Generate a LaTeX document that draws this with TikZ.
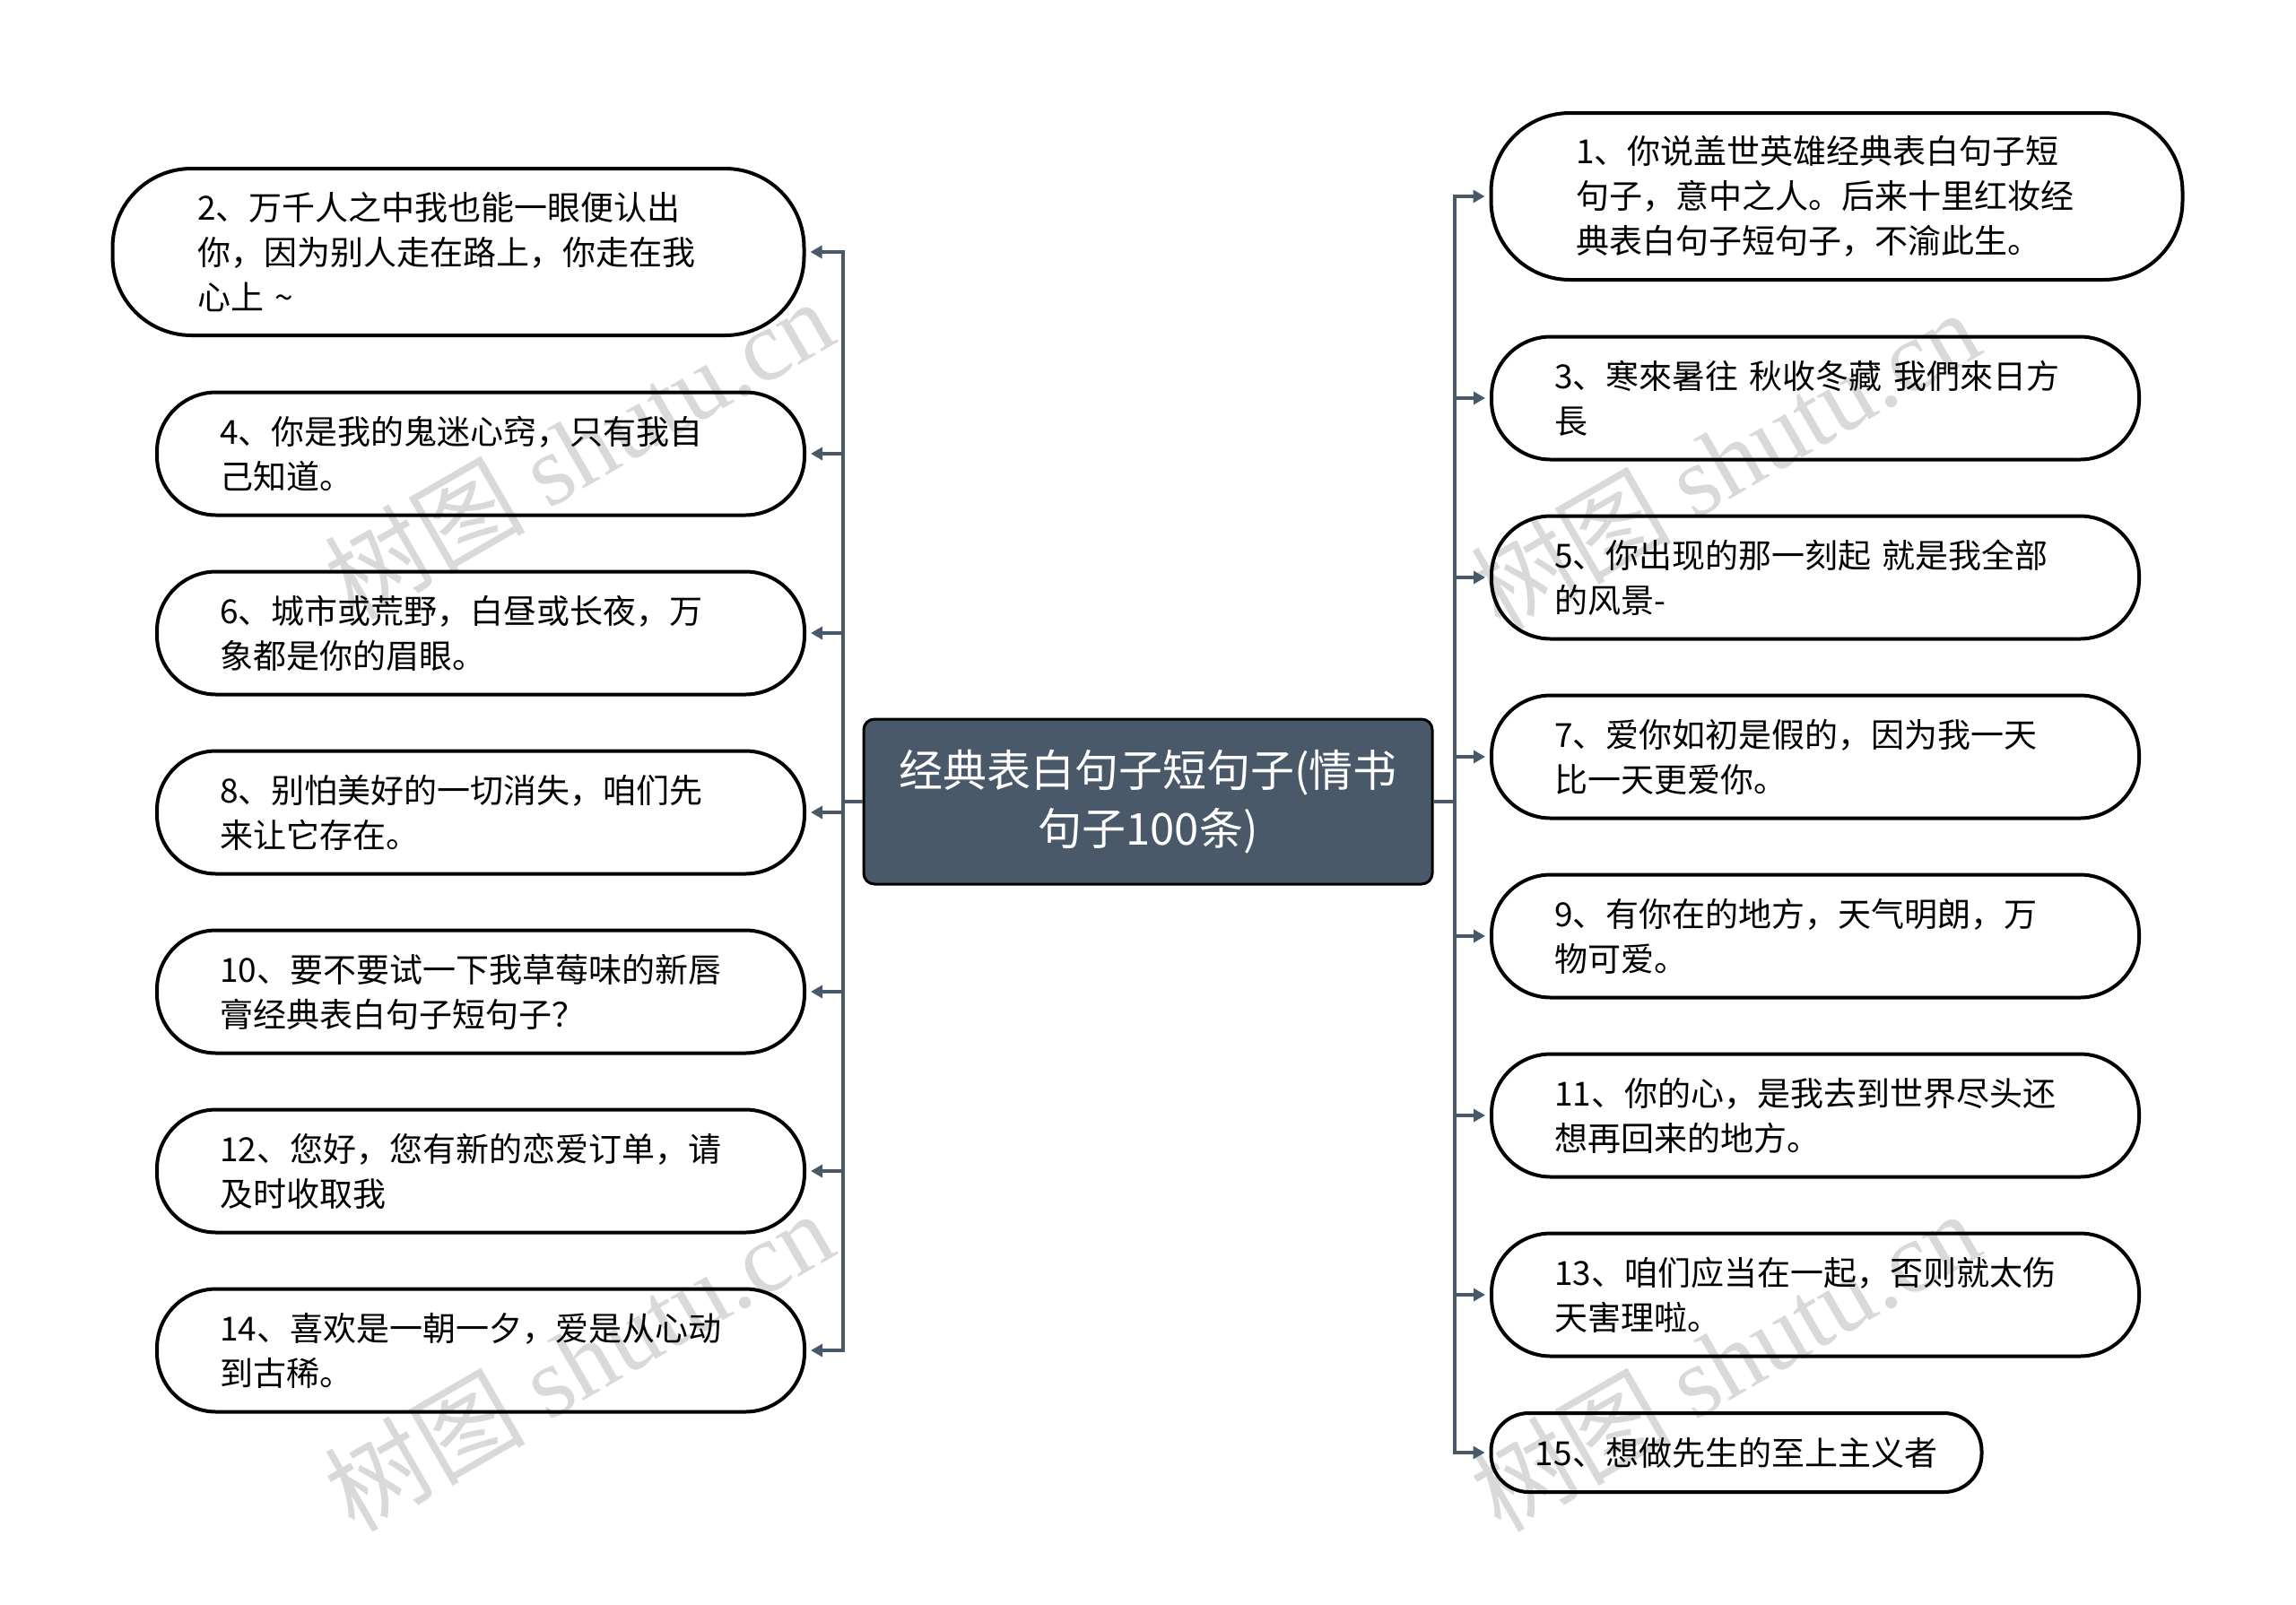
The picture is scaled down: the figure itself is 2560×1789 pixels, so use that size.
\documentclass[tikz,border=0pt]{standalone}
\usepackage{fontspec}
\setmainfont{Noto Sans CJK SC}
\newfontfamily\wmlatin{Liberation Serif}
\usetikzlibrary{arrows.meta}
\definecolor{hubfill}{RGB}{74,89,105}
\definecolor{linec}{RGB}{74,89,105}
\begin{document}
\begin{tikzpicture}[x=1pt,y=-1pt,
  leaf/.style={draw=black, line width=4pt, align=left, inner sep=0pt,
    font=\fontsize{37}{50}\selectfont},
  wide/.style={leaf, text width=582pt},
  big/.style={wide, minimum width=771pt, minimum height=186pt, rounded corners=88pt},
  small/.style={wide, minimum width=722pt, minimum height=137pt, rounded corners=66pt},
  hub/.style={draw=black, line width=3pt, fill=hubfill, text=white, rounded corners=12pt,
    minimum width=634pt, minimum height=184pt, align=center, inner sep=0pt,
    font=\fontsize{49}{65}\selectfont},
  arr/.style={draw=linec, line width=3.5pt, -{Triangle[length=13pt,width=14pt]}, shorten >=5pt},
  wm/.style={text=black!15, rotate=30, font=\fontsize{112}{120}\selectfont, inner sep=0pt}
]
\path[fill=white, use as bounding box] (0,0) rectangle (2560,1789);

% watermarks
\node[wm] (w1) at (645,500) {树图 {\wmlatin shutu.cn}};
\node[wm] (w2) at (645,1517) {树图 {\wmlatin shutu.cn}};
\node[wm] (w3) at (1923,512) {树图 {\wmlatin shutu.cn}};
\node[wm] (w4) at (1923,1517) {树图 {\wmlatin shutu.cn}};

% central node
\node[hub] (c) at (1280,894) {经典表白句子短句子(情书\\句子100条)};

% left nodes
\node[big] (n2) at (511,281) {2、万千人之中我也能一眼便认出\\你，因为别人走在路上，你走在我\\心上 \textasciitilde};
\node[small] (n4) at (536,506) {4、你是我的鬼迷心窍，只有我自\\己知道。};
\node[small] (n6) at (536,706) {6、城市或荒野，白昼或长夜，万\\象都是你的眉眼。};
\node[small] (n8) at (536,906) {8、别怕美好的一切消失，咱们先\\来让它存在。};
\node[small] (n10) at (536,1106) {10、要不要试一下我草莓味的新唇\\膏经典表白句子短句子？};
\node[small] (n12) at (536,1306) {12、您好，您有新的恋爱订单，请\\及时收取我};
\node[small] (n14) at (536,1506) {14、喜欢是一朝一夕，爱是从心动\\到古稀。};

% right nodes
\node[big] (n1) at (2048,219) {1、你说盖世英雄经典表白句子短\\句子，意中之人。后来十里红妆经\\典表白句子短句子，不渝此生。};
\node[small] (n3) at (2024,444) {3、寒來暑往 秋收冬藏 我們來日方\\長};
\node[small] (n5) at (2024,644) {5、你出现的那一刻起 就是我全部\\的风景-};
\node[small] (n7) at (2024,844) {7、爱你如初是假的，因为我一天\\比一天更爱你。};
\node[small] (n9) at (2024,1044) {9、有你在的地方，天气明朗，万\\物可爱。};
\node[small] (n11) at (2024,1244) {11、你的心，是我去到世界尽头还\\想再回来的地方。};
\node[small] (n13) at (2024,1444) {13、咱们应当在一起，否则就太伤\\天害理啦。};
\node[leaf, minimum width=547pt, minimum height=88pt, rounded corners=42pt] (n15) at (1936,1620) {15、想做先生的至上主义者};

% hubs
\coordinate (L) at (940,894);
\coordinate (R) at (1622,894);

\foreach \n in {n2,n4,n6,n8,n10,n12,n14}
  \draw[arr] (c.west) -- (L) |- (\n.east);
\foreach \n in {n1,n3,n5,n7,n9,n11,n13,n15}
  \draw[arr] (c.east) -- (R) |- (\n.west);
\end{tikzpicture}
\end{document}
